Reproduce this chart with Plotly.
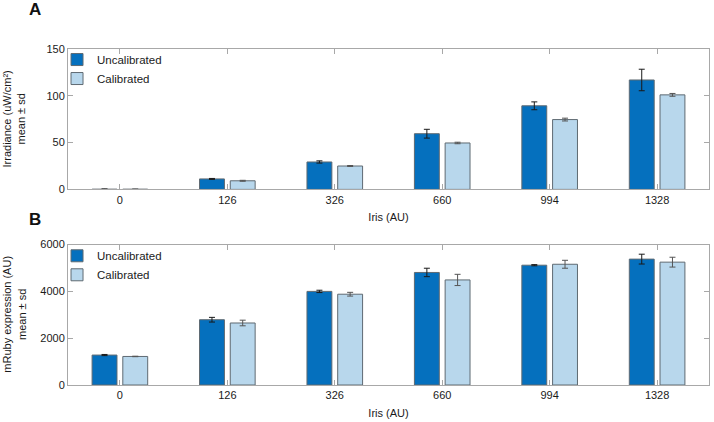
import plotly.graph_objects as go
from plotly.subplots import make_subplots

iris = ["0", "126", "326", "660", "994", "1328"]

irr_uncal = [0.2, 11.2, 29.3, 59.5, 89.3, 116.9]
irr_uncal_sd = [0.3, 0.5, 1.2, 4.7, 4.2, 11.5]
irr_cal = [0.2, 9.2, 25.0, 49.6, 74.6, 101.0]
irr_cal_sd = [0.3, 0.5, 0.5, 0.8, 1.5, 1.5]

mr_uncal = [1280, 2790, 4000, 4810, 5120, 5380]
mr_uncal_sd = [25, 100, 50, 180, 25, 210]
mr_cal = [1220, 2650, 3880, 4490, 5160, 5250]
mr_cal_sd = [10, 120, 80, 240, 170, 210]

C_UNCAL = "#0570BE"
C_CAL = "#B8D7EC"
EDGE = "#5f6a72"
FONT = "Liberation Sans, Arial, sans-serif"
TXT = "#1a1a1a"

W, H = 714, 422
L, R, T, B = 68, 4, 49, 34
PW, PH = W - L - R, H - T - B

def px_x(px):
    return (px - L) / PW

def px_y(py):
    return (H - B - py) / PH

# panel A: 49..191 px, panel B: 246.7..388 px
fig = make_subplots(rows=2, cols=1, vertical_spacing=px_y(191) - px_y(246.7))

def add_pair(row, u, usd, c, csd, legend):
    fig.add_trace(go.Bar(x=iris, y=u, name="Uncalibrated",
                         marker=dict(color=C_UNCAL, line=dict(color=EDGE, width=1)),
                         error_y=dict(type="data", array=usd, color="#1a1a1a", thickness=1, width=3),
                         legend=legend), row=row, col=1)
    fig.add_trace(go.Bar(x=iris, y=c, name="Calibrated",
                         marker=dict(color=C_CAL, line=dict(color=EDGE, width=1)),
                         error_y=dict(type="data", array=csd, color="#555555", thickness=1, width=3),
                         legend=legend), row=row, col=1)

add_pair(1, irr_uncal, irr_uncal_sd, irr_cal, irr_cal_sd, "legend")
add_pair(2, mr_uncal, mr_uncal_sd, mr_cal, mr_cal_sd, "legend2")

axis_common = dict(showline=True, linecolor="#a8a8a8", linewidth=1, mirror="ticks",
                   ticks="inside", ticklen=5, tickcolor="#a8a8a8", showgrid=False,
                   zeroline=False, tickfont=dict(family=FONT, size=11, color=TXT))

for r, so in ((1, 8), (2, 9)):
    fig.update_xaxes(axis_common, row=r, col=1)
    fig.update_xaxes(range=[-0.483, 5.483],
                     title=dict(text="Iris (AU)", font=dict(family=FONT, size=11, color=TXT), standoff=so),
                     row=r, col=1)
    fig.update_yaxes(axis_common, row=r, col=1)

fig.update_yaxes(range=[0, 150], tickvals=[0, 50, 100, 150], row=1, col=1)
fig.update_yaxes(range=[0, 6000], tickvals=[0, 2000, 4000, 6000], row=2, col=1)

leg = dict(x=px_x(57), xanchor="left", yanchor="top", bgcolor="rgba(0,0,0,0)",
           font=dict(family=FONT, size=11.5, color=TXT), tracegroupgap=0,
           itemwidth=30)

ann = []
for txt, px, py in [("A", 35, 9), ("B", 35, 221)]:
    ann.append(dict(text=f"<b>{txt}</b>", x=px_x(px), y=px_y(py),
                    xref="paper", yref="paper", showarrow=False,
                    xanchor="center", yanchor="middle",
                    font=dict(family=FONT, size=17, color="#111111")))
for txt, py in [("Irradiance (uW/cm²)<br>mean ± sd", 120),
                ("mRuby expression (AU)<br>mean ± sd", 317)]:
    ann.append(dict(text=txt, x=px_x(14), y=px_y(py), xref="paper", yref="paper",
                    showarrow=False, textangle=-90, xanchor="center", yanchor="middle",
                    font=dict(family=FONT, size=11, color=TXT)))

fig.update_layout(
    width=W, height=H,
    margin=dict(l=L, r=R, t=T, b=B),
    paper_bgcolor="white", plot_bgcolor="white",
    barmode="group", bargap=0.428, bargroupgap=0.19,
    legend=dict(leg, y=px_y(45)),
    legend2=dict(leg, y=px_y(243)),
    annotations=ann,
    font=dict(family=FONT),
)

fig.write_html("out.html", config={"displayModeBar": False},
               post_script="document.body.style.margin='0px';")
